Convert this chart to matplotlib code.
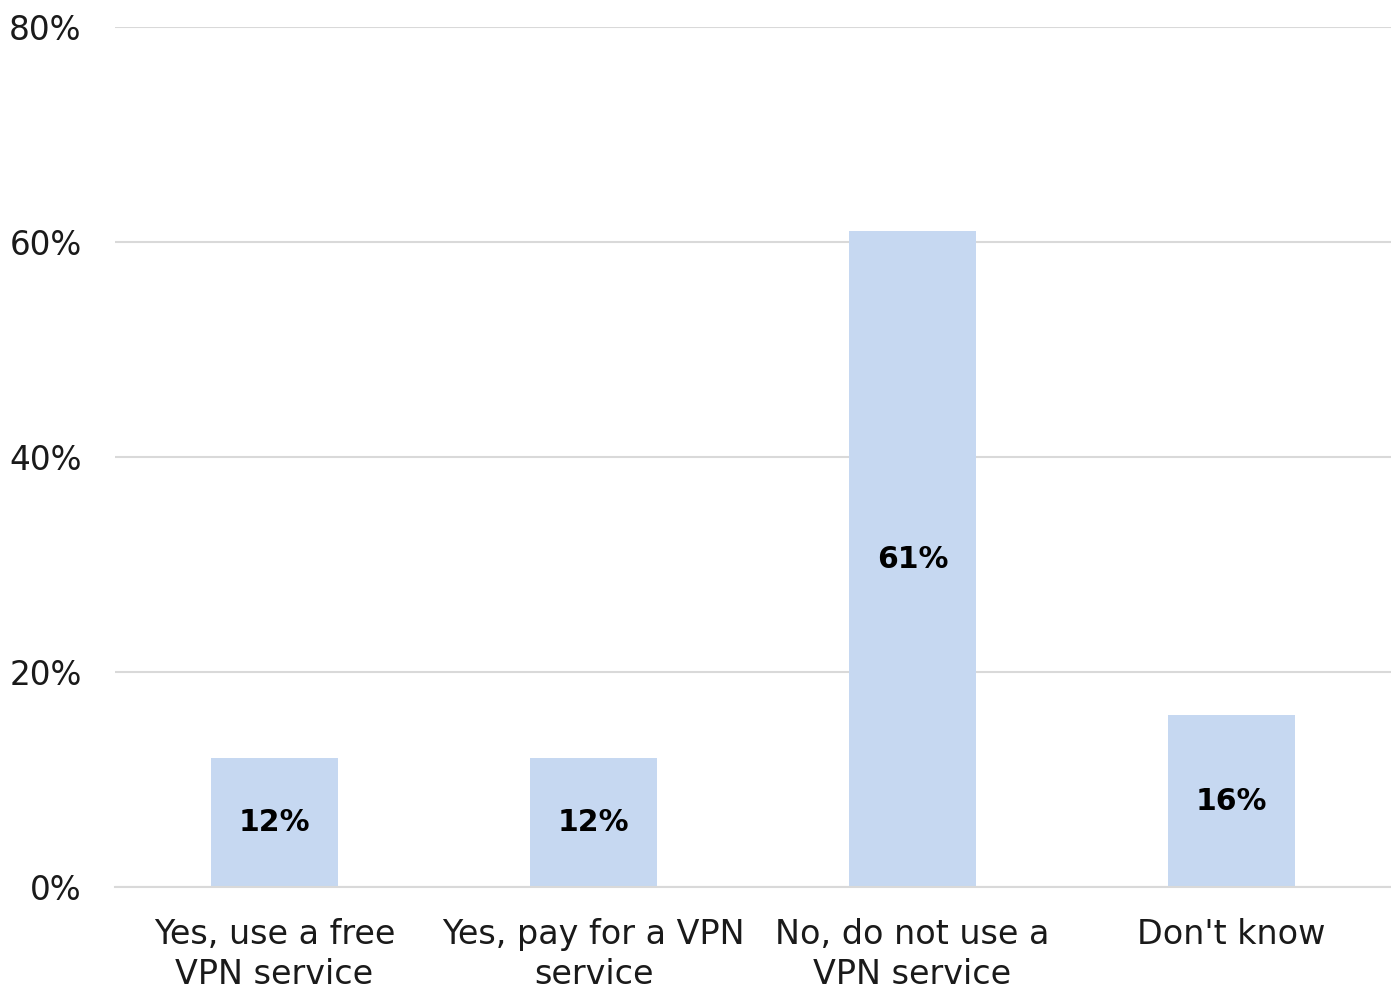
import matplotlib.pyplot as plt
from matplotlib.ticker import FuncFormatter

categories = ["Yes, use a free\nVPN service", "Yes, pay for a VPN\nservice",
              "No, do not use a\nVPN service", "Don't know"]
shares = [12, 12, 61, 16]
yticks = [0, 20, 40, 60, 80]

BAR_COLOUR = "#c6d8f1"
GRID_COLOUR = "#d9d9d9"

plt.rcParams["font.family"] = ["DejaVu Sans"]

fig = plt.figure(figsize=(13.91, 9.88), dpi=100)
ax = fig.add_axes([0.0827, 0.1022, 0.9173, 0.8705])

x = range(len(categories))
bars = ax.bar(x, shares, width=0.4, color=BAR_COLOUR, zorder=2)

for rect, val in zip(bars, shares):
    ax.text(rect.get_x() + rect.get_width() / 2, val / 2, "{}%".format(val),
            ha="center", va="center", fontsize=21.5, fontweight="bold",
            color="black", zorder=3)

ax.set_xlim(-0.5, len(categories) - 0.5)
ax.set_ylim(0, 80)
ax.set_yticks(yticks)
ax.yaxis.set_major_formatter(FuncFormatter(lambda v, p: "{:.0f}%".format(v)))
ax.set_xticks(list(x))
ax.set_xticklabels(categories, fontsize=24, linespacing=1.3)
ax.tick_params(axis="y", labelsize=23.5, length=0, pad=24)
ax.tick_params(axis="x", length=0, pad=22)
for lbl in ax.get_yticklabels() + ax.get_xticklabels():
    lbl.set_color("#1a1a1a")

ax.grid(axis="y", color=GRID_COLOUR, linewidth=1.5, zorder=0)
for side in ["top", "right", "left"]:
    ax.spines[side].set_visible(False)
ax.spines["bottom"].set_color(GRID_COLOUR)
ax.spines["bottom"].set_linewidth(1.5)

fig.savefig("out.png", dpi=100)
